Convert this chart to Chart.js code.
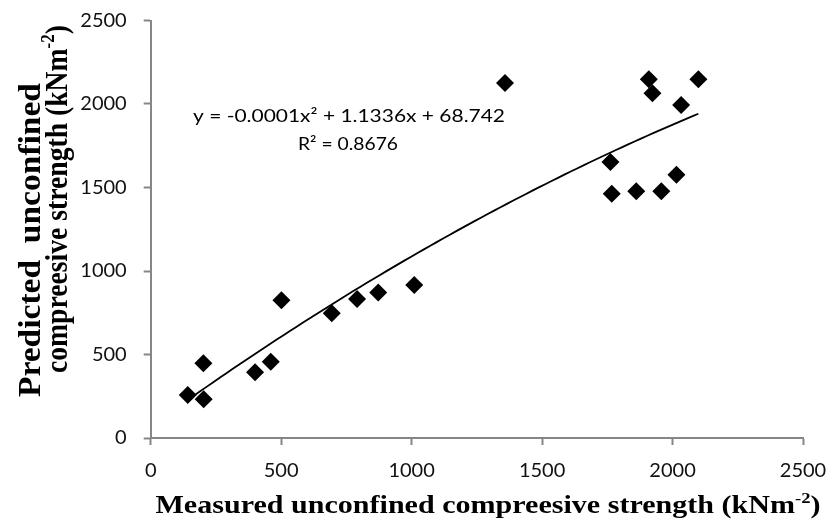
<!DOCTYPE html>
<html>
<head>
<meta charset="utf-8">
<script src="https://cdn.jsdelivr.net/npm/chart.js@4.4.1/dist/chart.umd.min.js"></script>
<style>
  html, body { margin: 0; padding: 0; background: #fff; }
  #wrap { width: 828px; height: 520px; }
</style>
</head>
<body>
<div id="wrap"><canvas id="c" width="828" height="520"></canvas></div>
<script>
// Measured vs predicted unconfined compressive strength (kNm-2)
const measured  = [142, 202, 203, 400, 460, 501, 694, 791, 872, 1010, 1358, 1762, 1767, 1861, 1909, 1923, 1957, 2015, 2033, 2099];
const predicted = [257, 447, 232, 393, 457, 825, 747, 832, 872, 916, 2126, 1653, 1463, 1477, 2148, 2064, 1477, 1577, 1994, 2148];
const xTickValues = [0, 500, 1000, 1500, 2000, 2500];
const yTickValues = [0, 500, 1000, 1500, 2000, 2500];
// second-order trendline y = a x^2 + b x + c (a shown rounded to -0.0001)
const trendA = -0.000115;
const trendB = 1.1336;
const trendC = 68.742;
const equationText = 'y = -0.0001x\u00B2 + 1.1336x + 68.742';
const rSquaredText = 'R\u00B2 = 0.8676';

const xMin = Math.min(...measured), xMax = Math.max(...measured);
const trend = [];
for (let i = 0; i <= 80; i++) {
  const x = xMin + (xMax - xMin) * i / 80;
  trend.push({ x: x, y: trendA * x * x + trendB * x + trendC });
}

const AXIS_GREY = '#868686';
const TICK_FONT = { family: 'Lato, "Open Sans", sans-serif', size: 20 };

// Draws a run of text segments (superscripts allowed) centred at (0,0), squeezed to a given width
function drawRuns(ctx, runs, size, family, weight, targetWidth) {
  const parts = runs.map(r => {
    const fs = r.sup ? size * 0.62 : size;
    ctx.font = weight + ' ' + fs + 'px ' + family;
    return { t: r.t, sup: r.sup, fs: fs, w: ctx.measureText(r.t).width };
  });
  const natural = parts.reduce((a, p) => a + p.w, 0);
  const sx = targetWidth ? targetWidth / natural : 1;
  ctx.save();
  ctx.scale(sx, 1);
  let x = -natural / 2;
  ctx.textBaseline = 'alphabetic';
  ctx.textAlign = 'left';
  for (const p of parts) {
    ctx.font = weight + ' ' + p.fs + 'px ' + family;
    ctx.fillText(p.t, x, p.sup ? -size * 0.42 : 0);
    x += p.w;
  }
  ctx.restore();
}

const serif = '"Liberation Serif", "Times New Roman", serif';
const sans = 'Lato, "Open Sans", sans-serif';

const textPlugin = {
  id: 'chartText',
  afterDraw(chart) {
    const ctx = chart.ctx;
    ctx.save();
    ctx.fillStyle = '#000';

    // x-axis title
    ctx.save();
    ctx.translate(488, 513);
    drawRuns(ctx, [{ t: 'Measured unconfined compreesive strength (kNm' }, { t: '-2', sup: true }, { t: ')' }], 25, serif, 'bold', 665);
    ctx.restore();

    // y-axis title, two lines
    ctx.save();
    ctx.translate(40, 240);
    ctx.rotate(-Math.PI / 2);
    drawRuns(ctx, [{ t: 'Predicted  unconfined' }], 32, serif, 'bold', 314);
    ctx.restore();

    ctx.save();
    ctx.translate(67, 199);
    ctx.rotate(-Math.PI / 2);
    drawRuns(ctx, [{ t: 'compreesive strength (kNm' }, { t: '-2', sup: true }, { t: ')' }], 32, serif, 'bold', 348);
    ctx.restore();

    // trendline equation
    ctx.save();
    ctx.translate(349, 122);
    drawRuns(ctx, [{ t: equationText }], 18, sans, 'normal', 312);
    ctx.restore();
    ctx.save();
    ctx.translate(348, 150);
    drawRuns(ctx, [{ t: rSquaredText }], 18, sans, 'normal', 100);
    ctx.restore();

    ctx.restore();
  }
};

new Chart(document.getElementById('c'), {
  type: 'scatter',
  data: {
    datasets: [
      {
        label: 'Poly. trend',
        type: 'line',
        data: trend,
        borderColor: '#000',
        borderWidth: 1.8,
        pointRadius: 0,
        fill: false,
        tension: 0,
        order: 2
      },
      {
        label: 'UCS',
        data: measured.map((x, i) => ({ x: x, y: predicted[i] })),
        pointStyle: 'rectRot',
        pointRadius: 9,
        pointBackgroundColor: '#000',
        pointBorderColor: '#000',
        pointBorderWidth: 0,
        order: 1
      }
    ]
  },
  options: {
    responsive: false,
    animation: false,
    events: [],
    layout: { padding: { left: 0, right: 25, top: 20.5, bottom: 0 } },
    plugins: { legend: { display: false }, tooltip: { enabled: false } },
    scales: {
      x: {
        type: 'linear',
        min: 0, max: 2500,
        afterBuildTicks: s => { s.ticks = xTickValues.map(v => ({ value: v })); },
        afterFit: s => { s.height = 82; s.paddingLeft = 0; s.paddingRight = 0; },
        border: { display: true, color: AXIS_GREY, width: 2 },
        grid: { drawOnChartArea: false, drawTicks: true, tickLength: 7, tickColor: AXIS_GREY, tickWidth: 2 },
        ticks: { color: '#111', font: TICK_FONT, padding: 14, maxRotation: 0, callback: v => String(v) }
      },
      y: {
        type: 'linear',
        min: 0, max: 2500,
        afterBuildTicks: s => { s.ticks = yTickValues.map(v => ({ value: v })); },
        afterFit: s => { s.width = 150.7; s.paddingTop = 0; s.paddingBottom = 0; },
        border: { display: true, color: AXIS_GREY, width: 2 },
        grid: { drawOnChartArea: false, drawTicks: true, tickLength: 7, tickColor: AXIS_GREY, tickWidth: 2 },
        ticks: { color: '#111', font: TICK_FONT, padding: 17, callback: v => String(v) }
      }
    }
  },
  plugins: [textPlugin]
});
</script>
</body>
</html>
